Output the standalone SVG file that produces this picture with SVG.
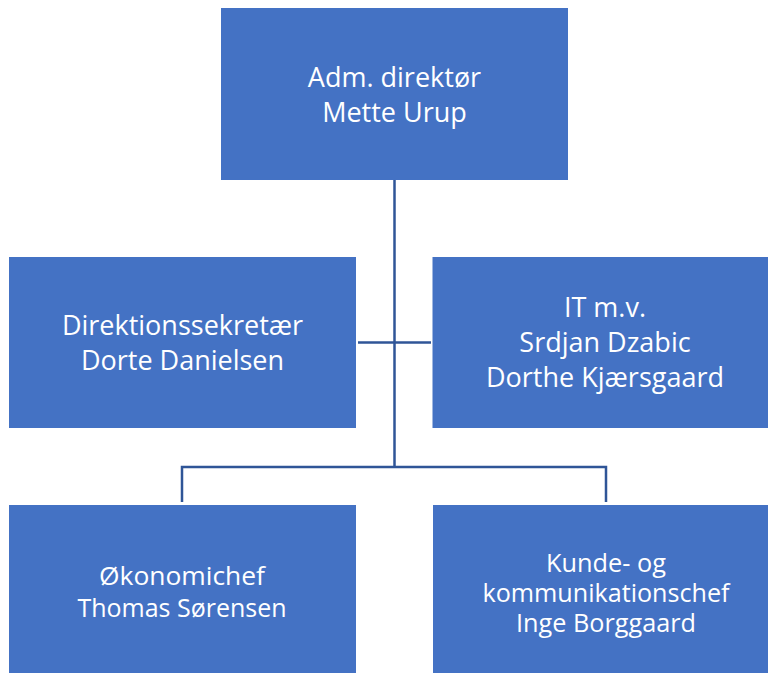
<svg xmlns="http://www.w3.org/2000/svg" width="768" height="673" viewBox="0 0 768 673">
<style>
.box{fill:#4472C4;}
.t{font-family:"Open Sans","Noto Sans","Liberation Sans",sans-serif;font-size:27px;fill:#ffffff;text-anchor:middle;}
.tb{font-family:"Open Sans","Noto Sans","Liberation Sans",sans-serif;font-size:26px;fill:#ffffff;text-anchor:middle;}
.c{stroke:#2F5597;stroke-width:2.5;fill:none;}
</style>
<rect width="768" height="673" fill="#ffffff"/>
<g id="connectors">
<line class="c" x1="394.5" y1="180" x2="394.5" y2="467"/>
<line class="c" x1="358" y1="342.5" x2="431" y2="342.5"/>
<polyline class="c" points="182,502 182,467 606,467 606,502"/>
</g>
<g id="n-adm">
<rect class="box" x="221" y="8" width="347" height="172"/>
<text class="t" x="394.5" y="87">Adm. direktør</text>
<text class="t" x="394.5" y="122">Mette Urup</text>
</g>
<g id="n-sekr">
<rect class="box" x="9" y="257" width="347" height="171"/>
<text class="t" x="182.5" y="335">Direktionssekretær</text>
<text class="t" x="182.5" y="370">Dorte Danielsen</text>
</g>
<g id="n-it">
<rect class="box" x="432.5" y="257" width="335.5" height="171"/>
<text class="t" x="605" y="317">IT m.v.</text>
<text class="t" x="605" y="352">Srdjan Dzabic</text>
<text class="t" x="605" y="387">Dorthe Kjærsgaard</text>
</g>
<g id="n-oek">
<rect class="box" x="9" y="505" width="347" height="168"/>
<text class="tb" x="182" y="585" textLength="166" lengthAdjust="spacingAndGlyphs">Økonomichef</text>
<text class="tb" x="182" y="617" textLength="209" lengthAdjust="spacingAndGlyphs">Thomas Sørensen</text>
</g>
<g id="n-kunde">
<rect class="box" x="433" y="505" width="335" height="168"/>
<text class="tb" x="606" y="572" textLength="120" lengthAdjust="spacingAndGlyphs">Kunde- og</text>
<text class="tb" x="606" y="602" textLength="247" lengthAdjust="spacingAndGlyphs">kommunikationschef</text>
<text class="tb" x="606" y="632" textLength="180" lengthAdjust="spacingAndGlyphs">Inge Borggaard</text>
</g>
</svg>
